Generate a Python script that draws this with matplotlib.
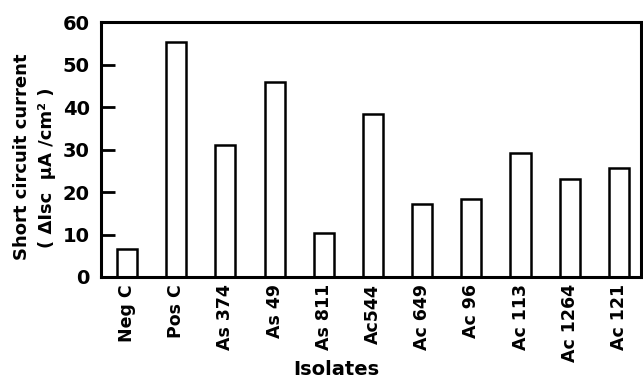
import matplotlib.pyplot as plt

isolates = ["Neg C", "Pos C", "As 374", "As 49", "As 811", "Ac544",
            "Ac 649", "Ac 96", "Ac 113", "Ac 1264", "Ac 121"]
isc = [6.6, 55.3, 31.0, 46.0, 10.4, 38.3, 17.2, 18.3, 29.1, 23.0, 25.7]
yticks = [0, 10, 20, 30, 40, 50, 60]

plt.rcParams["font.family"] = "DejaVu Sans"
plt.rcParams["font.weight"] = "bold"

fig = plt.figure(figsize=(6.43, 3.81), dpi=100)
ax = fig.add_axes([0.157, 0.273, 0.84, 0.669])

x = range(len(isolates))
ax.bar(x, isc, width=0.41, facecolor="white", edgecolor="black", linewidth=1.8)

ax.set_xlim(-0.53, 10.45)
ax.set_ylim(0, 60)
ax.set_yticks(yticks)
ax.set_yticklabels([str(v) for v in yticks], fontsize=14, fontweight="bold")
ax.set_xticks(list(x))
ax.set_xticklabels(isolates, rotation=90, fontsize=12.5, fontweight="bold")

ax.tick_params(axis="y", direction="in", length=10, width=2, pad=8)
ax.tick_params(axis="x", length=0, pad=5)
for s in ax.spines.values():
    s.set_linewidth(2.2)

ax.set_xlabel("Isolates", fontsize=14, fontweight="bold")
ax.xaxis.set_label_coords(0.435, -0.325)

fig.text(0.034, 0.588, "Short circuit current", rotation=90, ha="center",
         va="center", fontsize=13, fontweight="bold")
fig.text(0.073, 0.56, "( ΔIsc  μA /cm² )", rotation=90, ha="center",
         va="center", fontsize=13, fontweight="bold")

fig.savefig("out.png", dpi=100)
